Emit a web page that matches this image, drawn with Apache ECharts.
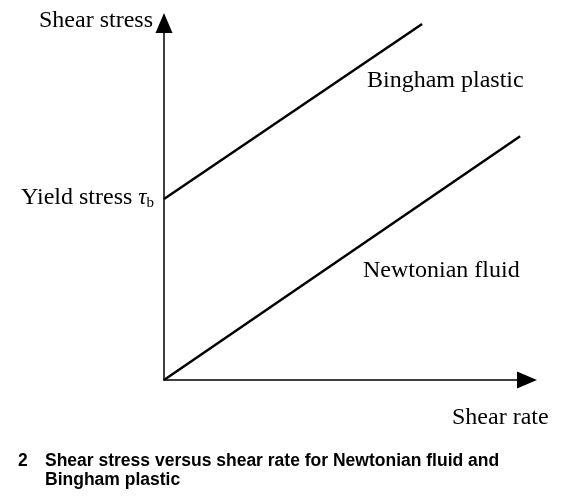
<!DOCTYPE html>
<html><head><meta charset="utf-8">
<script src="https://cdn.jsdelivr.net/npm/echarts@6/dist/echarts.min.js"></script>
<style>html,body{margin:0;padding:0;background:#fff}#c{width:573px;height:502px}</style>
</head><body><div id="c"></div>
<script>
// Data (arbitrary units, read from the schematic)
const binghamX = [0, 7.11];
const binghamY = [5.07, 9.97];
const newtonX = [0, 9.81];
const newtonY = [0, 6.83];
const xAxisTitle = 'Shear rate';
const yAxisTitle = 'Shear stress';
const binghamLabel = 'Bingham plastic';
const newtonLabel = 'Newtonian fluid';
const yieldLabel = 'Yield stress ';
const captionNum = '2';
const captionLines = ['Shear stress versus shear rate for Newtonian fluid and', 'Bingham plastic'];

const serif = '"Liberation Serif", "DejaVu Serif", serif';
const sans = '"Liberation Sans", Arial, sans-serif';
const chart = echarts.init(document.getElementById('c'));
const toPairs = (xs, ys) => xs.map((x, i) => [x, ys[i]]);
const axisCommon = {
  type: 'value', min: 0, max: 10,
  splitLine: {show: false}, axisTick: {show: false}, axisLabel: {show: false},
  axisLine: {show: true, lineStyle: {color: '#000', width: 1.5}, symbol: ['none', 'triangle'], symbolSize: [17, 20]}
};
const txt = (text, x, y, font, extra) => ({
  type: 'text', x: x, y: y,
  style: Object.assign({text: text, font: font, fill: '#000', verticalAlign: 'middle', align: 'left'}, extra || {})
});
chart.setOption({
  animation: false,
  grid: {left: 164, right: 46, top: 23, bottom: 122, containLabel: false},
  xAxis: axisCommon,
  yAxis: axisCommon,
  series: [
    {type: 'line', data: toPairs(binghamX, binghamY), symbol: 'none', lineStyle: {color: '#000', width: 2.5}},
    {type: 'line', data: toPairs(newtonX, newtonY), symbol: 'none', lineStyle: {color: '#000', width: 2.5}}
  ],
  graphic: [
    txt(yAxisTitle, 39, 21, '24px ' + serif),
    {type: 'text', x: 21, y: 198, style: {
      text: yieldLabel + '{t|τ}{s|b}', font: '24px ' + serif, fill: '#000', verticalAlign: 'middle',
      rich: {t: {fontFamily: serif, fontSize: 23, fontStyle: 'italic'}, s: {fontFamily: serif, fontSize: 15, padding: [10, 0, 0, 0]}}
    }},
    txt(binghamLabel, 367, 81, '24px ' + serif),
    txt(newtonLabel, 363, 271, '24px ' + serif),
    txt(xAxisTitle, 452, 418, '24px ' + serif),
    txt(captionNum, 18, 461, 'bold 17.5px ' + sans),
    txt(captionLines[0], 45, 461, 'bold 17.5px ' + sans),
    txt(captionLines[1], 45, 480, 'bold 17.5px ' + sans)
  ]
});
</script></body></html>
